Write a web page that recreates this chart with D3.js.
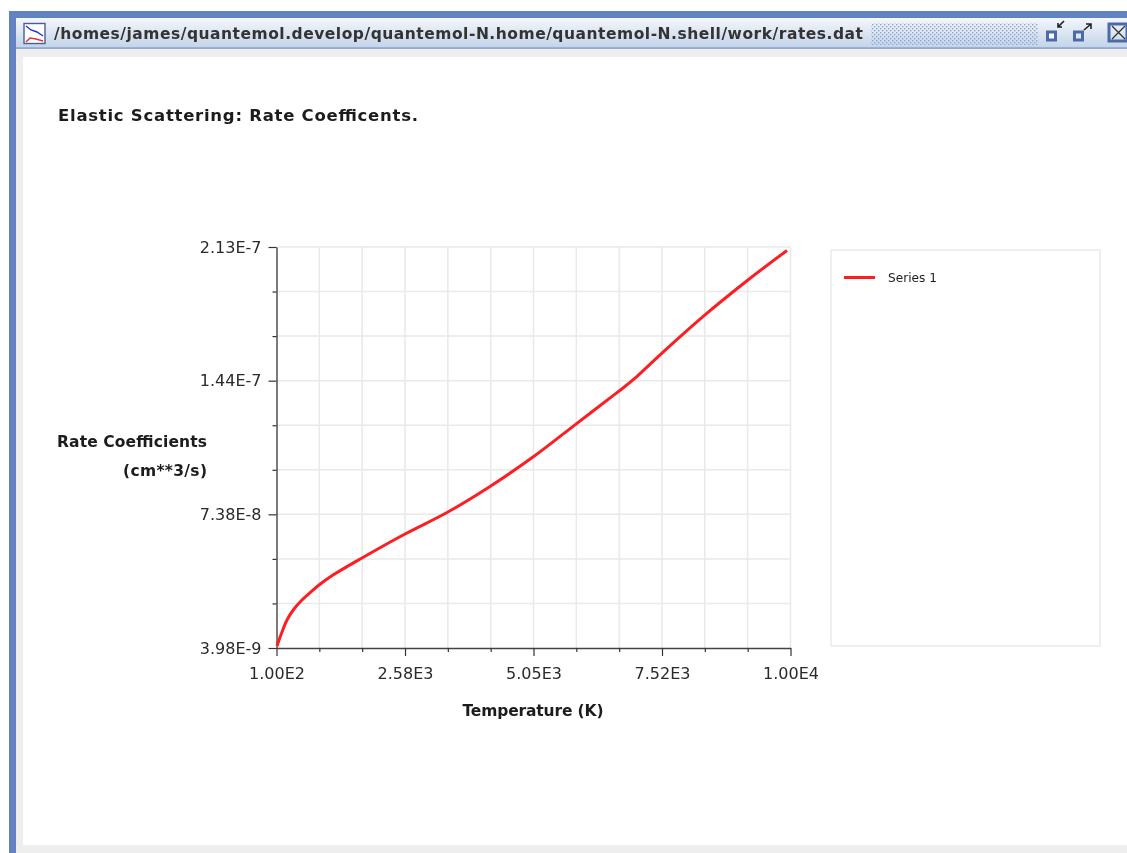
<!DOCTYPE html>
<html>
<head>
<meta charset="utf-8">
<title>rates.dat</title>
<script src="https://cdn.jsdelivr.net/npm/d3@7"></script>
<style>
  html, body { margin: 0; padding: 0; background: #fff; overflow: hidden; }
  svg { filter: blur(0.35px); }
  text { font-family: "DejaVu Sans", sans-serif; fill: #1c1c1c; }
  .tick text { font-size: 16px; fill: #2a2a2a; }
  .heading { font-weight: bold; font-size: 15.5px; }
</style>
</head>
<body>
<div id="chart"></div>
<script>
const temperature = [110, 129, 206, 302, 437, 591, 764, 919, 1188, 1747, 2575, 3384, 4212, 5040, 5868, 6677, 6966, 7525, 8353, 9181, 9932];
const rateCoefficient = [5.0e-9, 6.6e-9, 1.23e-8, 1.86e-8, 2.43e-8, 2.90e-8, 3.32e-8, 3.68e-8, 4.20e-8, 5.09e-8, 6.34e-8, 7.46e-8, 8.82e-8, 1.035e-7, 1.207e-7, 1.375e-7, 1.437e-7, 1.577e-7, 1.776e-7, 1.958e-7, 2.112e-7];
const xTickLabels = ["1.00E2", "2.58E3", "5.05E3", "7.52E3", "1.00E4"];
const yTickLabels = ["3.98E-9", "7.38E-8", "1.44E-7", "2.13E-7"];
const xDomain = [100, 10000];
const yDomain = [3.98e-9, 2.13e-7];
const seriesName = "Series 1";
const windowTitle = "/homes/james/quantemol.develop/quantemol-N.home/quantemol-N.shell/work/rates.dat";

const width = 1127, height = 853;
const plot = {left: 276.5, right: 790.5, top: 247, bottom: 648};
const ticksPerInterval = 3; // two unlabelled ticks between labelled ones

const svg = d3.select("#chart").append("svg")
  .attr("width", width)
  .attr("height", height)
  .style("display", "block");

// Window frame
const defs = svg.append("defs");
const barGrad = defs.append("linearGradient").attr("id", "bar").attr("x2", 0).attr("y2", 1);
barGrad.append("stop").attr("offset", 0).attr("stop-color", "#f4f7fb");
barGrad.append("stop").attr("offset", 1).attr("stop-color", "#c3d3e8");
const dots = defs.append("pattern").attr("id", "dots")
  .attr("width", 4).attr("height", 4).attr("patternUnits", "userSpaceOnUse");
dots.append("rect").attr("width", 1.4).attr("height", 1.4).attr("fill", "#8ba6d4");
dots.append("rect").attr("x", 2).attr("y", 2).attr("width", 1.4).attr("height", 1.4).attr("fill", "#8ba6d4");

svg.append("rect").attr("x", 9).attr("y", 11).attr("width", width - 9).attr("height", height - 11).attr("fill", "#6382c0");
svg.append("rect").attr("x", 16).attr("y", 18).attr("width", width - 16).attr("height", height - 18).attr("fill", "#eeeeee");
svg.append("rect").attr("x", 16).attr("y", 18).attr("width", width - 16).attr("height", 30).attr("fill", "url(#bar)");
svg.append("rect").attr("x", 16).attr("y", 47.5).attr("width", width - 16).attr("height", 1.2).attr("fill", "#6f8fc9");
svg.append("rect").attr("x", 23).attr("y", 57).attr("width", width - 23).attr("height", 788).attr("fill", "#fff");
svg.append("rect").attr("x", 871).attr("y", 23).attr("width", 167).attr("height", 22).attr("fill", "url(#dots)");

// Title bar icon
const icon = svg.append("g").attr("fill", "none");
icon.append("rect").attr("x", 24).attr("y", 23.5).attr("width", 21).attr("height", 20).attr("fill", "#fff").attr("stroke", "#4a5f8f").attr("stroke-width", 1.4);
icon.append("path").attr("d", "M26,26 L31,30 L37,32 L43,36").attr("stroke", "#2a2ae0").attr("stroke-width", 1.4);
icon.append("path").attr("d", "M26,42 L30,38 L36,39 L43,41").attr("stroke", "#e83030").attr("stroke-width", 1.4);

svg.append("text").attr("x", 54).attr("y", 38.5)
  .style("font-weight", "bold").style("font-size", "15.5px").style("fill", "#333")
  .attr("textLength", 809).attr("lengthAdjust", "spacing")
  .text(windowTitle);

// Window buttons
const btn = svg.append("g").attr("fill", "none");
btn.append("rect").attr("x", 1047.5).attr("y", 32).attr("width", 8).attr("height", 8).attr("stroke", "#4d6aa8").attr("stroke-width", 3).attr("fill", "#fff");
btn.append("path").attr("d", "M1064,21 L1058,27 M1058,23 V27 H1062").attr("stroke", "#222").attr("stroke-width", 1.6);
btn.append("rect").attr("x", 1074.5).attr("y", 32).attr("width", 8).attr("height", 8).attr("stroke", "#4d6aa8").attr("stroke-width", 3).attr("fill", "#dfe6f2");
btn.append("path").attr("d", "M1084,30 L1091,24 M1086,24 H1091 V29").attr("stroke", "#222").attr("stroke-width", 1.6);
btn.append("rect").attr("x", 1109).attr("y", 24).attr("width", 18).attr("height", 17).attr("stroke", "#4d6aa8").attr("stroke-width", 3);
btn.append("path").attr("d", "M1112,26 L1125,39 M1125,26 L1112,39").attr("stroke", "#333").attr("stroke-width", 1.3);

// Scales
const x = d3.scaleLinear().domain(xDomain).range([plot.left, plot.right]);
const y = d3.scaleLinear().domain(yDomain).range([plot.bottom, plot.top]);

function evenTicks(domain, labelCount) {
  const n = ticksPerInterval * (labelCount - 1);
  return d3.range(0, n + 1).map(i => domain[0] + (domain[1] - domain[0]) * i / n);
}
const xTicks = evenTicks(xDomain, xTickLabels.length);
const yTicks = evenTicks(yDomain, yTickLabels.length);

// Grid
const gridColor = "#e9e9e9";
svg.append("g").selectAll("line").data(xTicks.slice(1)).enter().append("line")
  .attr("x1", d => x(d)).attr("x2", d => x(d))
  .attr("y1", plot.top).attr("y2", plot.bottom)
  .attr("stroke", gridColor).attr("stroke-width", 1.5);
svg.append("g").selectAll("line").data(yTicks.slice(1)).enter().append("line")
  .attr("x1", plot.left).attr("x2", plot.right)
  .attr("y1", d => y(d)).attr("y2", d => y(d))
  .attr("stroke", gridColor).attr("stroke-width", 1.5);

// Axes
const isMajor = i => i % ticksPerInterval === 0;
const xAxis = d3.axisBottom(x).tickValues(xTicks).tickSize(4).tickSizeOuter(0).tickPadding(16)
  .tickFormat((d, i) => isMajor(i) ? xTickLabels[i / ticksPerInterval] : "");
const yAxis = d3.axisLeft(y).tickValues(yTicks).tickSize(4).tickSizeOuter(0).tickPadding(6)
  .tickFormat((d, i) => isMajor(i) ? yTickLabels[i / ticksPerInterval] : "");

const gx = svg.append("g").attr("transform", `translate(0,${plot.bottom})`).call(xAxis);
const gy = svg.append("g").attr("transform", `translate(${plot.left},0)`).call(yAxis);
[gx, gy].forEach(g => {
  g.select(".domain").attr("stroke", "#444").attr("stroke-width", 1.4);
  g.selectAll(".tick line").attr("stroke", "#333").attr("stroke-width", 1.2);
});
// Labelled ticks are longer
gy.selectAll(".tick line").attr("x2", (d, i) => isMajor(i) ? -8 : -4);
gy.selectAll(".tick text").attr("x", -15);
gx.selectAll(".tick line").attr("y2", (d, i) => isMajor(i) ? 8 : 4);

// Series
const line = d3.line()
  .x((d, i) => x(temperature[i]))
  .y(d => y(d))
  .curve(d3.curveCatmullRom.alpha(0.5));

svg.append("path")
  .datum(rateCoefficient)
  .attr("fill", "none")
  .attr("stroke", "#fb1f24")
  .attr("stroke-width", 3)
  .attr("d", line);

// Titles
svg.append("text").attr("class", "heading").attr("x", 58).attr("y", 120.5)
  .style("font-size", "16.5px").attr("textLength", 360).text("Elastic Scattering: Rate Coefficents.");
svg.append("text").attr("class", "heading").attr("x", 57).attr("y", 447)
  .attr("textLength", 150).text("Rate Coefficients");
svg.append("text").attr("class", "heading").attr("x", 207).attr("y", 475.5)
  .attr("text-anchor", "end").attr("textLength", 84).text("(cm**3/s)");
svg.append("text").attr("class", "heading").attr("x", 533).attr("y", 715.5)
  .attr("text-anchor", "middle").attr("textLength", 141).text("Temperature (K)");

// Legend
svg.append("rect").attr("x", 831).attr("y", 250).attr("width", 269).attr("height", 396)
  .attr("fill", "#fff").attr("stroke", "#e8e8e8").attr("stroke-width", 1.4);
svg.append("line").attr("x1", 844).attr("x2", 875).attr("y1", 277.5).attr("y2", 277.5)
  .attr("stroke", "#fb1f24").attr("stroke-width", 3);
svg.append("text").attr("x", 888).attr("y", 281.5)
  .style("font-size", "12px").attr("textLength", 49).attr("lengthAdjust", "spacingAndGlyphs").text(seriesName);
</script>
</body>
</html>
